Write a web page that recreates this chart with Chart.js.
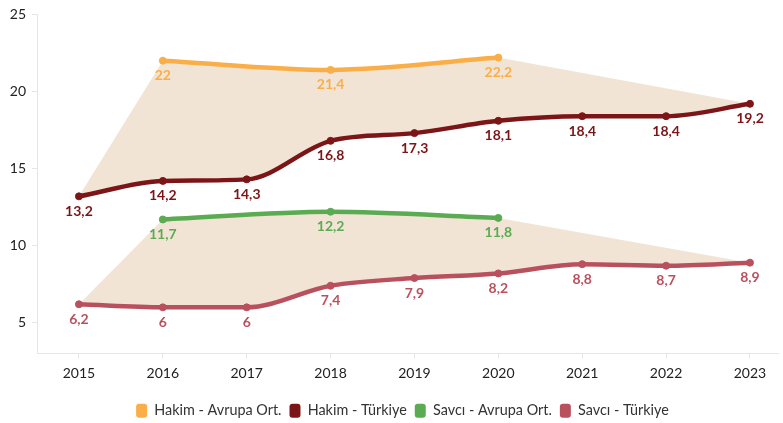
<!DOCTYPE html>
<html>
<head>
<meta charset="utf-8">
<script src="https://cdn.jsdelivr.net/npm/chart.js@4/dist/chart.umd.min.js"></script>
<style>
html,body{margin:0;padding:0;background:#fff;overflow:hidden;}
#wrap{width:783px;height:423px;position:relative;}
</style>
</head>
<body>
<div id="wrap"><canvas id="c"></canvas></div>
<script>
const years = [2015, 2016, 2017, 2018, 2019, 2020, 2021, 2022, 2023];
const hakimTR = [13.2, 14.2, 14.3, 16.8, 17.3, 18.1, 18.4, 18.4, 19.2];
const savciTR = [6.2, 6, 6, 7.4, 7.9, 8.2, 8.8, 8.7, 8.9];
const euYears = [2016, 2018, 2020];
const hakimEU = [22, 21.4, 22.2];
const savciEU = [11.7, 12.2, 11.8];
const yTicks = [5, 10, 15, 20, 25];
const seriesNames = ['Hakim - Avrupa Ort.', 'Hakim - Türkiye', 'Savcı - Avrupa Ort.', 'Savcı - Türkiye'];

const C_HEU = '#f9ae48', C_HTR = '#7c1518', C_SEU = '#5aab52', C_STR = '#b9505d', C_FILL = '#f2e4d4';
const FONT = 'Lato, "Open Sans", sans-serif';

const pts = (xs, ys) => xs.map((x, i) => ({x: x, y: ys[i]}));
const last = a => a[a.length - 1];

function mainLine(label, data, color) {
  return {
    label: label, data: data, borderColor: color, backgroundColor: color,
    pointBackgroundColor: color, pointBorderColor: color, pointRadius: 3.5, pointBorderWidth: 1,
    pointHoverRadius: 3.5, borderWidth: 4.5, cubicInterpolationMode: 'monotone', fill: false,
    legendColor: color
  };
}
// shaded band: Türkiye start -> Avrupa points -> Türkiye end, filled down to the Türkiye line
function envelope(trVals, euVals, target) {
  const data = [{x: years[0], y: trVals[0]}]
    .concat(pts(euYears, euVals))
    .concat([{x: last(years), y: last(trVals)}]);
  return {
    label: '_band', data: data, borderColor: 'rgba(0,0,0,0)', borderWidth: 0,
    backgroundColor: C_FILL, pointRadius: 0, tension: 0, fill: target
  };
}

const datasets = [
  mainLine(seriesNames[0], pts(euYears, hakimEU), C_HEU),
  mainLine(seriesNames[1], pts(years, hakimTR), C_HTR),
  mainLine(seriesNames[2], pts(euYears, savciEU), C_SEU),
  mainLine(seriesNames[3], pts(years, savciTR), C_STR),
  envelope(hakimTR, hakimEU, 1),
  envelope(savciTR, savciEU, 3)
];

const labelPlugin = {
  id: 'valueLabels',
  afterLayout(chart) {
    if (chart.legend) { chart.legend.left += 11; chart.legend.right += 11; }
  },
  afterDatasetsDraw(chart) {
    const ctx = chart.ctx;
    ctx.save();
    ctx.font = 'bold 14px ' + FONT;
    ctx.textAlign = 'center';
    ctx.textBaseline = 'middle';
    for (let d = 0; d < 4; d++) {
      const ds = chart.data.datasets[d];
      const meta = chart.getDatasetMeta(d);
      meta.data.forEach((el, i) => {
        const v = ds.data[i].y;
        ctx.fillStyle = ds.legendColor;
        ctx.fillText(String(v).replace('.', ','), el.x, el.y + 15);
      });
    }
    ctx.restore();
  }
};

new Chart(document.getElementById('c'), {
  type: 'line',
  data: {datasets: datasets},
  plugins: [labelPlugin],
  options: {
    responsive: true, maintainAspectRatio: false, animation: false, events: [],
    layout: {padding: {top: 11, right: 0, left: 0, bottom: -5}},
    plugins: {
      filler: {drawTime: 'beforeDatasetsDraw'},
      tooltip: {enabled: false},
      legend: {
        position: 'bottom',
        labels: {
          generateLabels: chart => chart.data.datasets.slice(0, 4).map((ds, i) => ({
            text: ds.label, fillStyle: ds.legendColor, strokeStyle: ds.legendColor, lineWidth: 0,
            datasetIndex: i, borderRadius: 3, fontColor: '#333'
          })),
          boxWidth: 11, boxHeight: 14, useBorderRadius: true, borderRadius: 3,
          padding: 8, color: '#333', font: {family: FONT, size: 14.4}
        }
      }
    },
    scales: {
      x: {
        type: 'linear', min: 2014.5, max: 2023.34,
        afterBuildTicks: s => { s.ticks = years.map(v => ({value: v})); },
        afterFit: s => { s.height = 42; s.paddingRight = 0; s.paddingLeft = 0; },
        grid: {drawOnChartArea: false, tickLength: 5, color: '#e6e6e6'},
        border: {color: '#e6e6e6', width: 1},
        ticks: {color: '#222', font: {family: FONT, size: 14}, padding: 6, maxRotation: 0, callback: v => String(v)}
      },
      y: {
        min: 3, max: 25,
        afterBuildTicks: s => { s.ticks = yTicks.map(v => ({value: v})); },
        afterFit: s => { s.width = 37; },
        grid: {drawOnChartArea: false, tickLength: 5, color: '#e6e6e6'},
        border: {color: '#e6e6e6', width: 1},
        ticks: {color: '#222', font: {family: FONT, size: 14}, padding: 6}
      }
    }
  }
});
</script>
</body>
</html>
